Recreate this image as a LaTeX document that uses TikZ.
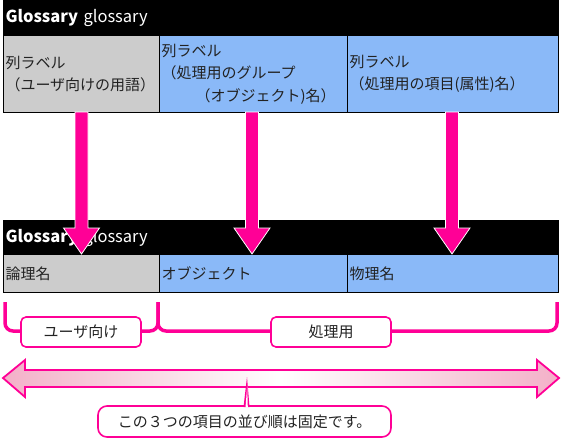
\documentclass[tikz,border=0pt]{standalone}
\usepackage{fontspec}
\setmainfont{Noto Sans CJK JP}
\usetikzlibrary{calc}
\definecolor{pk}{RGB}{255,0,150}
\definecolor{cgray}{RGB}{204,204,204}
\definecolor{cblue}{RGB}{138,185,248}
\definecolor{pklight}{RGB}{243,176,200}
\definecolor{txt}{RGB}{34,34,34}
\tikzset{
  hdr/.style={draw=black, line width=1pt, fill=black, text=white, anchor=north west, inner xsep=2pt, inner ysep=0pt,
     minimum height=35pt, text width=551pt, align=left, font=\fontsize{16.5}{18}\selectfont},
  cell/.style={draw=black, line width=1pt, anchor=north west, inner xsep=2pt, inner ysep=0pt,
     align=left, text=txt, font=\fontsize{15}{22.5}\selectfont},
  dnarrow/.style={fill=pk, draw=white, line width=0.8pt},
  brk/.style={draw=pk, line width=3.5pt, rounded corners=8pt},
  lbl/.style={draw=pk, line width=1.6pt, fill=white, rounded corners=5pt, text=txt,
     font=\fontsize{15}{16}\selectfont, minimum width=120pt, minimum height=30pt, inner sep=0pt},
  dbl/.style={draw=pk, line width=1.8pt, left color=pklight, right color=pklight, middle color=white},
}
\begin{document}
\begin{tikzpicture}[x=1pt,y=-1pt]
\useasboundingbox (0,0) rectangle (561,439);
% top table
\node[hdr] (h1) at (3,0) {\textbf{Glossary} glossary};
\node[cell, fill=cgray, minimum height=77pt, text width=152pt] (a1) at (3,35) {列ラベル\\（ユーザ向けの用語）};
\node[cell, fill=cblue, minimum height=77pt, text width=184pt] (a2) at (159,35) {列ラベル\\（処理用のグループ\\\hspace*{34pt}（オブジェクト)名）};
\node[cell, fill=cblue, minimum height=77pt, text width=207pt] (a3) at (347,35) {列ラベル\\（処理用の項目(属性)名）};
% bottom table
\node[hdr] (h2) at (3,220) {\textbf{Glossary} glossary};
\node[cell, fill=cgray, minimum height=38pt, text width=152pt] (b1) at (3,254) {論理名};
\node[cell, fill=cblue, minimum height=38pt, text width=184pt] (b2) at (159,254) {オブジェクト};
\node[cell, fill=cblue, minimum height=38pt, text width=207pt] (b3) at (347,254) {物理名};
% down arrows
\foreach \cx in {81.5,252,452}{
  \draw[dnarrow] (\cx-6.5,112) -- (\cx+6.5,112) -- (\cx+6.5,228) -- (\cx+18,228) -- (\cx,254)
     -- (\cx-18,228) -- (\cx-6.5,228) -- cycle;
}
% brackets
\draw[brk] (5,302) -- (5,331) -- (158,331) -- (158,302);
\draw[brk] (158,302) -- (158,331) -- (557,331) -- (557,302);
\node[lbl] (l1) at (81,332) {ユーザ向け};
\node[lbl] (l2) at (331,332) {処理用};
% double arrow
\draw[dbl] (3,378) -- (25,360) -- (25,370) -- (537,370) -- (537,360) -- (559,378)
  -- (537,397) -- (537,387) -- (25,387) -- (25,397) -- cycle;
\coordinate (tip) at (247,377);
% callout
\node[lbl, minimum width=293pt, minimum height=31pt, rounded corners=9pt] (c) at (244.5,421.5) {この３つの項目の並び順は固定です。};
\fill[pk] (243.5,407) -- (tip) -- (249.5,407) -- cycle;
\fill[white] (245.5,407.5) -- (247.2,386) -- (247.8,407.5) -- cycle;
\end{tikzpicture}
\end{document}
